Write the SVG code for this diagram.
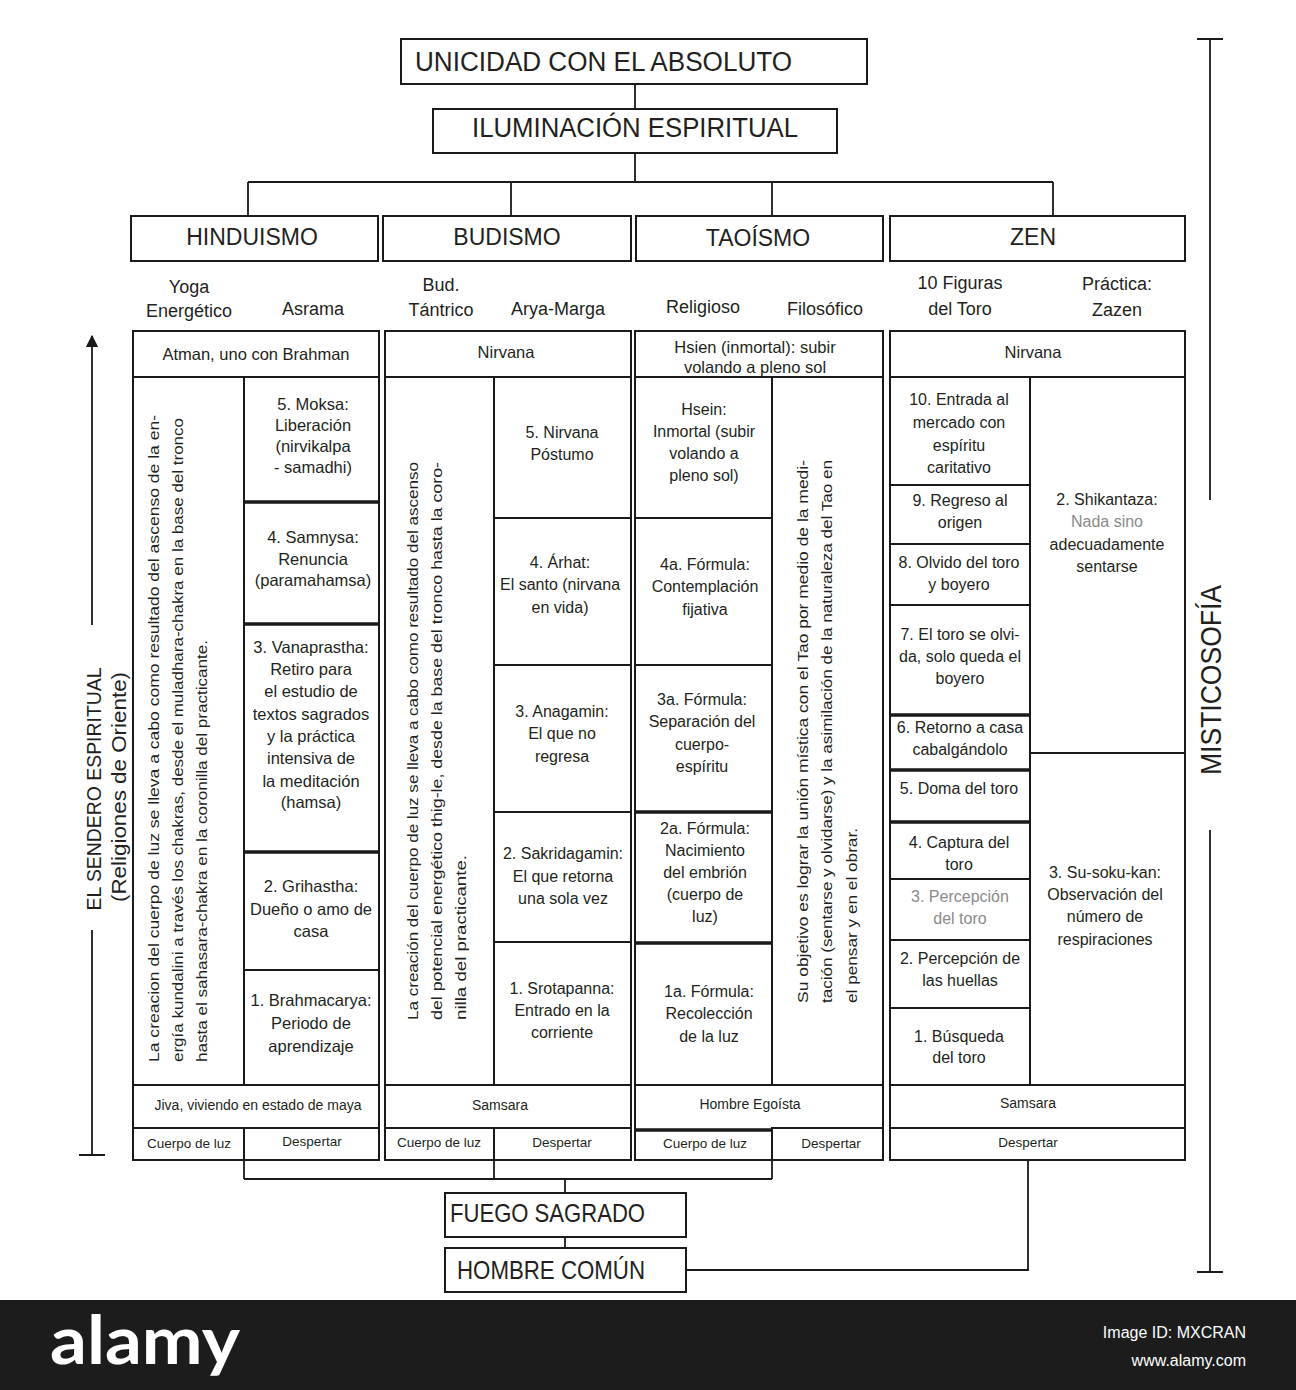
<svg xmlns="http://www.w3.org/2000/svg" width="1296" height="1390" viewBox="0 0 1296 1390">
<style>
.bx{fill:#fff;stroke:#1a1a1a;stroke-width:2}
.th{fill:none;stroke:#1a1a1a;stroke-width:3.5}
.ln{fill:none;stroke:#1a1a1a;stroke-width:1.8}
text{font-family:"Liberation Sans",Arial,sans-serif;fill:#231f20}
.ti{font-size:27px}
.hd{font-size:23px;text-anchor:middle}
.sh{font-size:18px;text-anchor:middle}
.top{font-size:16.5px;text-anchor:middle}
.h{font-size:16.5px;text-anchor:middle}
.c{font-size:16px;text-anchor:middle}
.s{font-size:14px;text-anchor:middle}
.xs{font-size:13.5px;text-anchor:middle}
.r{font-size:15px}
.g{fill:#8a8a8a}
.big{font-size:26px}
</style>
<defs>
<marker id="arr" viewBox="0 0 10 10" refX="9" refY="5" markerWidth="7" markerHeight="8" orient="auto"><path d="M0,0 L10,5 L0,10 z" fill="#1a1a1a"/></marker>
</defs>
<rect width="1296" height="1390" fill="#fff"/>

<g id="connectors">
<path class="ln" d="M635,84 V109 M635,153 V182 M248,182 H1053 M248,182 V216 M511,182 V216 M772,182 V216 M1053,182 V216"/>
<path class="ln" d="M244,1160 V1179 M494,1160 V1179 M772,1160 V1179 M244,1179 H772 M565,1179 V1193 M565,1237 V1248 M1028,1160 V1270 H686"/>
</g>

<g id="unicidad"><rect class="bx" x="401" y="39" width="466" height="45"/><text class="ti" x="415" y="71" textLength="377" lengthAdjust="spacingAndGlyphs">UNICIDAD CON EL ABSOLUTO</text></g>
<g id="iluminacion"><rect class="bx" x="433" y="109" width="404" height="44"/><text class="ti" x="472" y="137" textLength="326" lengthAdjust="spacingAndGlyphs">ILUMINACIÓN ESPIRITUAL</text></g>

<g id="hdr-hinduismo"><rect class="bx" x="131" y="216" width="247" height="45"/><text class="hd" x="252" y="245">HINDUISMO</text></g>
<g id="hdr-budismo"><rect class="bx" x="383" y="216" width="248" height="45"/><text class="hd" x="507" y="245">BUDISMO</text></g>
<g id="hdr-taoismo"><rect class="bx" x="636" y="216" width="247" height="45"/><text class="hd" x="758" y="246">TAOÍSMO</text></g>
<g id="hdr-zen"><rect class="bx" x="890" y="216" width="295" height="45"/><text class="hd" x="1033" y="245">ZEN</text></g>

<g id="subheaders">
<text class="sh" x="189" y="293">Yoga</text><text class="sh" x="189" y="317">Energético</text>
<text class="sh" x="313" y="315">Asrama</text>
<text class="sh" x="441" y="291">Bud.</text><text class="sh" x="441" y="316">Tántrico</text>
<text class="sh" x="558" y="315">Arya-Marga</text>
<text class="sh" x="703" y="313">Religioso</text>
<text class="sh" x="825" y="315">Filosófico</text>
<text class="sh" x="960" y="289">10 Figuras</text><text class="sh" x="960" y="315">del Toro</text>
<text class="sh" x="1117" y="290">Práctica:</text><text class="sh" x="1117" y="316">Zazen</text>
</g>

<!-- HINDUISMO -->
<g id="h-atman"><rect class="bx" x="133" y="331" width="246" height="46"/><text class="top" x="256" y="360">Atman, uno con Brahman</text></g>
<g id="h-yoga"><rect class="bx" x="133" y="377" width="111" height="708"/>
<text class="r" transform="translate(159,1062) rotate(-90)" textLength="647" lengthAdjust="spacingAndGlyphs">La creacion del cuerpo de luz se lleva a cabo como resultado del ascenso de la en-</text>
<text class="r" transform="translate(183,1062) rotate(-90)" textLength="644" lengthAdjust="spacingAndGlyphs">ergía kundalini a través los chakras, desde el muladhara-chakra en la base del tronco</text>
<text class="r" transform="translate(207,1062) rotate(-90)" textLength="422" lengthAdjust="spacingAndGlyphs">hasta el sahasara-chakra en la coronilla del practicante.</text>
</g>
<g id="h-moksa"><rect class="bx" x="244" y="377" width="135" height="125"/><text class="h" x="313" y="410">5. Moksa:</text><text class="h" x="313" y="431">Liberación</text><text class="h" x="313" y="452">(nirvikalpa</text><text class="h" x="313" y="473">- samadhi)</text></g>
<g id="h-samnysa"><rect class="bx" x="244" y="502" width="135" height="122"/><text class="h" x="313" y="543">4. Samnysa:</text><text class="h" x="313" y="565">Renuncia</text><text class="h" x="313" y="586">(paramahamsa)</text></g>
<g id="h-vanaprastha"><rect class="bx" x="244" y="624" width="135" height="228"/><text class="h" x="311" y="653">3. Vanaprastha:</text><text class="h" x="311" y="675">Retiro para</text><text class="h" x="311" y="697">el estudio de</text><text class="h" x="311" y="720">textos sagrados</text><text class="h" x="311" y="742">y la práctica</text><text class="h" x="311" y="764">intensiva de</text><text class="h" x="311" y="787">la meditación</text><text class="h" x="311" y="808">(hamsa)</text></g>
<g id="h-grihastha"><rect class="bx" x="244" y="852" width="135" height="118"/><text class="h" x="311" y="892">2. Grihastha:</text><text class="h" x="311" y="915">Dueño o amo de</text><text class="h" x="311" y="937">casa</text></g>
<g id="h-brahmacarya"><rect class="bx" x="244" y="970" width="135" height="115"/><text class="h" x="311" y="1006">1. Brahmacarya:</text><text class="h" x="311" y="1029">Periodo de</text><text class="h" x="311" y="1052">aprendizaje</text></g>
<path class="th" d="M244,502 H379 M244,624 H379 M244,852 H379"/>
<g id="h-jiva"><rect class="bx" x="133" y="1085" width="246" height="43"/><text class="s" x="258" y="1110">Jiva, viviendo en estado de maya</text></g>
<g id="h-cuerpo"><rect class="bx" x="133" y="1128" width="111" height="32"/><text class="xs" x="189" y="1148">Cuerpo de luz</text></g>
<g id="h-despertar"><rect class="bx" x="244" y="1128" width="135" height="32"/><text class="xs" x="312" y="1146">Despertar</text></g>

<!-- BUDISMO -->
<g id="b-nirvana"><rect class="bx" x="385" y="331" width="246" height="46"/><text class="top" x="506" y="358">Nirvana</text></g>
<g id="b-tantrico"><rect class="bx" x="385" y="377" width="109" height="708"/>
<text class="r" transform="translate(418,1020) rotate(-90)" textLength="558" lengthAdjust="spacingAndGlyphs">La creación del cuerpo de luz se lleva a cabo como resultado del ascenso</text>
<text class="r" transform="translate(442,1020) rotate(-90)" textLength="558" lengthAdjust="spacingAndGlyphs">del potencial energético thig-le, desde la base del tronco hasta la coro-</text>
<text class="r" transform="translate(466,1020) rotate(-90)" textLength="165" lengthAdjust="spacingAndGlyphs">nilla del practicante.</text>
</g>
<g id="b-5"><rect class="bx" x="494" y="377" width="137" height="141"/><text class="c" x="562" y="438">5. Nirvana</text><text class="c" x="562" y="460">Póstumo</text></g>
<g id="b-4"><rect class="bx" x="494" y="518" width="137" height="147"/><text class="c" x="560" y="568">4. Árhat:</text><text class="c" x="560" y="590">El santo (nirvana</text><text class="c" x="560" y="613">en vida)</text></g>
<g id="b-3"><rect class="bx" x="494" y="665" width="137" height="147"/><text class="c" x="562" y="717">3. Anagamin:</text><text class="c" x="562" y="739">El que no</text><text class="c" x="562" y="762">regresa</text></g>
<g id="b-2"><rect class="bx" x="494" y="812" width="137" height="130"/><text class="c" x="563" y="859">2. Sakridagamin:</text><text class="c" x="563" y="882">El que retorna</text><text class="c" x="563" y="904">una sola vez</text></g>
<g id="b-1"><rect class="bx" x="494" y="942" width="137" height="143"/><text class="c" x="562" y="994">1. Srotapanna:</text><text class="c" x="562" y="1016">Entrado en la</text><text class="c" x="562" y="1038">corriente</text></g>
<g id="b-samsara"><rect class="bx" x="385" y="1085" width="246" height="43"/><text class="s" x="500" y="1110">Samsara</text></g>
<g id="b-cuerpo"><rect class="bx" x="385" y="1128" width="109" height="32"/><text class="xs" x="439" y="1147">Cuerpo de luz</text></g>
<g id="b-despertar"><rect class="bx" x="494" y="1128" width="137" height="32"/><text class="xs" x="562" y="1147">Despertar</text></g>

<!-- TAOISMO -->
<g id="t-hsien"><rect class="bx" x="635" y="331" width="248" height="46"/><text class="top" x="755" y="353">Hsien (inmortal): subir</text><text class="top" x="755" y="373">volando a pleno sol</text></g>
<g id="t-5"><rect class="bx" x="635" y="377" width="137" height="141"/><text class="c" x="704" y="415">Hsein:</text><text class="c" x="704" y="437">Inmortal (subir</text><text class="c" x="704" y="459">volando a</text><text class="c" x="704" y="481">pleno sol)</text></g>
<g id="t-4"><rect class="bx" x="635" y="518" width="137" height="147"/><text class="c" x="705" y="570">4a. Fórmula:</text><text class="c" x="705" y="592">Contemplación</text><text class="c" x="705" y="615">fijativa</text></g>
<g id="t-3"><rect class="bx" x="635" y="665" width="137" height="147"/><text class="c" x="702" y="705">3a. Fórmula:</text><text class="c" x="702" y="727">Separación del</text><text class="c" x="702" y="750">cuerpo-</text><text class="c" x="702" y="772">espíritu</text></g>
<g id="t-2"><rect class="bx" x="635" y="812" width="137" height="131"/><text class="c" x="705" y="834">2a. Fórmula:</text><text class="c" x="705" y="856">Nacimiento</text><text class="c" x="705" y="878">del embrión</text><text class="c" x="705" y="900">(cuerpo de</text><text class="c" x="705" y="922">luz)</text></g>
<g id="t-1"><rect class="bx" x="635" y="943" width="137" height="142"/><text class="c" x="709" y="997">1a. Fórmula:</text><text class="c" x="709" y="1019">Recolección</text><text class="c" x="709" y="1042">de la luz</text></g>
<path class="th" d="M635,812 H772 M635,943 H772"/>
<g id="t-filosofico"><rect class="bx" x="772" y="377" width="111" height="708"/>
<text class="r" transform="translate(808,1003) rotate(-90)" textLength="543" lengthAdjust="spacingAndGlyphs">Su objetivo es lograr la unión mística con el Tao por medio de la medi-</text>
<text class="r" transform="translate(832,1003) rotate(-90)" textLength="543" lengthAdjust="spacingAndGlyphs">tación (sentarse y olvidarse) y la asimilación de la naturaleza del Tao en</text>
<text class="r" transform="translate(857,1003) rotate(-90)" textLength="175" lengthAdjust="spacingAndGlyphs">el pensar y en el obrar.</text>
</g>
<g id="t-egoista"><rect class="bx" x="635" y="1085" width="248" height="45"/><text class="s" x="750" y="1109">Hombre Egoísta</text></g>
<g id="t-cuerpo"><rect class="bx" x="635" y="1130" width="137" height="30"/><text class="xs" x="705" y="1148">Cuerpo de luz</text></g>
<g id="t-despertar"><rect class="bx" x="772" y="1128" width="111" height="32"/><text class="xs" x="831" y="1148">Despertar</text></g>
<path class="th" d="M635,1130 H772"/>

<!-- ZEN -->
<g id="z-nirvana"><rect class="bx" x="890" y="331" width="295" height="46"/><text class="top" x="1033" y="358">Nirvana</text></g>
<g id="z-10"><rect class="bx" x="890" y="377" width="140" height="108"/><text class="c" x="959" y="405">10. Entrada al</text><text class="c" x="959" y="428">mercado con</text><text class="c" x="959" y="451">espíritu</text><text class="c" x="959" y="473">caritativo</text></g>
<g id="z-9"><rect class="bx" x="890" y="485" width="140" height="59"/><text class="c" x="960" y="506">9. Regreso al</text><text class="c" x="960" y="528">origen</text></g>
<g id="z-8"><rect class="bx" x="890" y="544" width="140" height="61"/><text class="c" x="959" y="568">8. Olvido del toro</text><text class="c" x="959" y="590">y boyero</text></g>
<g id="z-7"><rect class="bx" x="890" y="605" width="140" height="110"/><text class="c" x="960" y="640">7. El toro se olvi-</text><text class="c" x="960" y="662">da, solo queda el</text><text class="c" x="960" y="684">boyero</text></g>
<g id="z-6"><rect class="bx" x="890" y="715" width="140" height="55"/><text class="c" x="960" y="733">6. Retorno a casa</text><text class="c" x="960" y="755">cabalgándolo</text></g>
<g id="z-5"><rect class="bx" x="890" y="770" width="140" height="52"/><text class="c" x="959" y="794">5. Doma del toro</text></g>
<g id="z-4"><rect class="bx" x="890" y="822" width="140" height="57"/><text class="c" x="959" y="848">4. Captura del</text><text class="c" x="959" y="870">toro</text></g>
<g id="z-3"><rect class="bx" x="890" y="879" width="140" height="61"/><text class="c g" x="960" y="902">3. Percepción</text><text class="c g" x="960" y="924">del toro</text></g>
<g id="z-2"><rect class="bx" x="890" y="940" width="140" height="68"/><text class="c" x="960" y="964">2. Percepción de</text><text class="c" x="960" y="986">las huellas</text></g>
<g id="z-1"><rect class="bx" x="890" y="1008" width="140" height="77"/><text class="c" x="959" y="1042">1. Búsqueda</text><text class="c" x="959" y="1063">del toro</text></g>
<path class="th" d="M890,715 H1030 M890,770 H1030 M890,822 H1030"/>
<g id="z-shikantaza"><rect class="bx" x="1030" y="377" width="155" height="376"/><text class="c" x="1107" y="505">2. Shikantaza:</text><text class="c g" x="1107" y="527">Nada sino</text><text class="c" x="1107" y="550">adecuadamente</text><text class="c" x="1107" y="572">sentarse</text></g>
<g id="z-susokukan"><rect class="bx" x="1030" y="753" width="155" height="332"/><text class="c" x="1105" y="878">3. Su-soku-kan:</text><text class="c" x="1105" y="900">Observación del</text><text class="c" x="1105" y="922">número de</text><text class="c" x="1105" y="945">respiraciones</text></g>
<g id="z-samsara"><rect class="bx" x="890" y="1085" width="295" height="43"/><text class="s" x="1028" y="1108">Samsara</text></g>
<g id="z-despertar"><rect class="bx" x="890" y="1128" width="295" height="32"/><text class="xs" x="1028" y="1147">Despertar</text></g>

<!-- bottom -->
<g id="fuego"><rect class="bx" x="445" y="1193" width="241" height="44"/><text class="big" x="450" y="1222" textLength="195" lengthAdjust="spacingAndGlyphs">FUEGO SAGRADO</text></g>
<g id="hombre-comun"><rect class="bx" x="445" y="1248" width="241" height="44"/><text class="big" x="457" y="1279" textLength="188" lengthAdjust="spacingAndGlyphs">HOMBRE COMÚN</text></g>

<!-- side labels -->
<g id="sendero">
<path class="ln" d="M92,625 V336" marker-end="url(#arr)"/>
<path class="ln" d="M92,930 V1155 M79,1155 H105"/>
<text transform="translate(101,789) rotate(-90)" style="font-size:20px;text-anchor:middle" textLength="243" lengthAdjust="spacingAndGlyphs">EL SENDERO ESPIRITUAL</text>
<text transform="translate(126,787) rotate(-90)" style="font-size:20px;text-anchor:middle" textLength="230" lengthAdjust="spacingAndGlyphs">(Religiones de Oriente)</text>
</g>
<g id="misticosofia">
<path class="ln" d="M1197,39 H1223 M1210,39 V500 M1210,830 V1272 M1197,1272 H1223"/>
<text transform="translate(1221,680) rotate(-90)" style="font-size:30px;text-anchor:middle" textLength="190" lengthAdjust="spacingAndGlyphs">MISTICOSOFÍA</text>
</g>

<!-- watermark band -->
<g id="band">
<rect x="0" y="1300" width="1296" height="90" fill="#1c1c1c"/>
<text x="50" y="1364" style="font-family:Lato,'Liberation Sans',sans-serif;font-size:66px;font-weight:bold;fill:#fff" textLength="190" lengthAdjust="spacingAndGlyphs">alamy</text>
<text x="1246" y="1338" style="font-size:16px;fill:#fff;text-anchor:end">Image ID: MXCRAN</text>
<text x="1246" y="1366" style="font-size:16px;fill:#fff;text-anchor:end">www.alamy.com</text>
</g>
</svg>
